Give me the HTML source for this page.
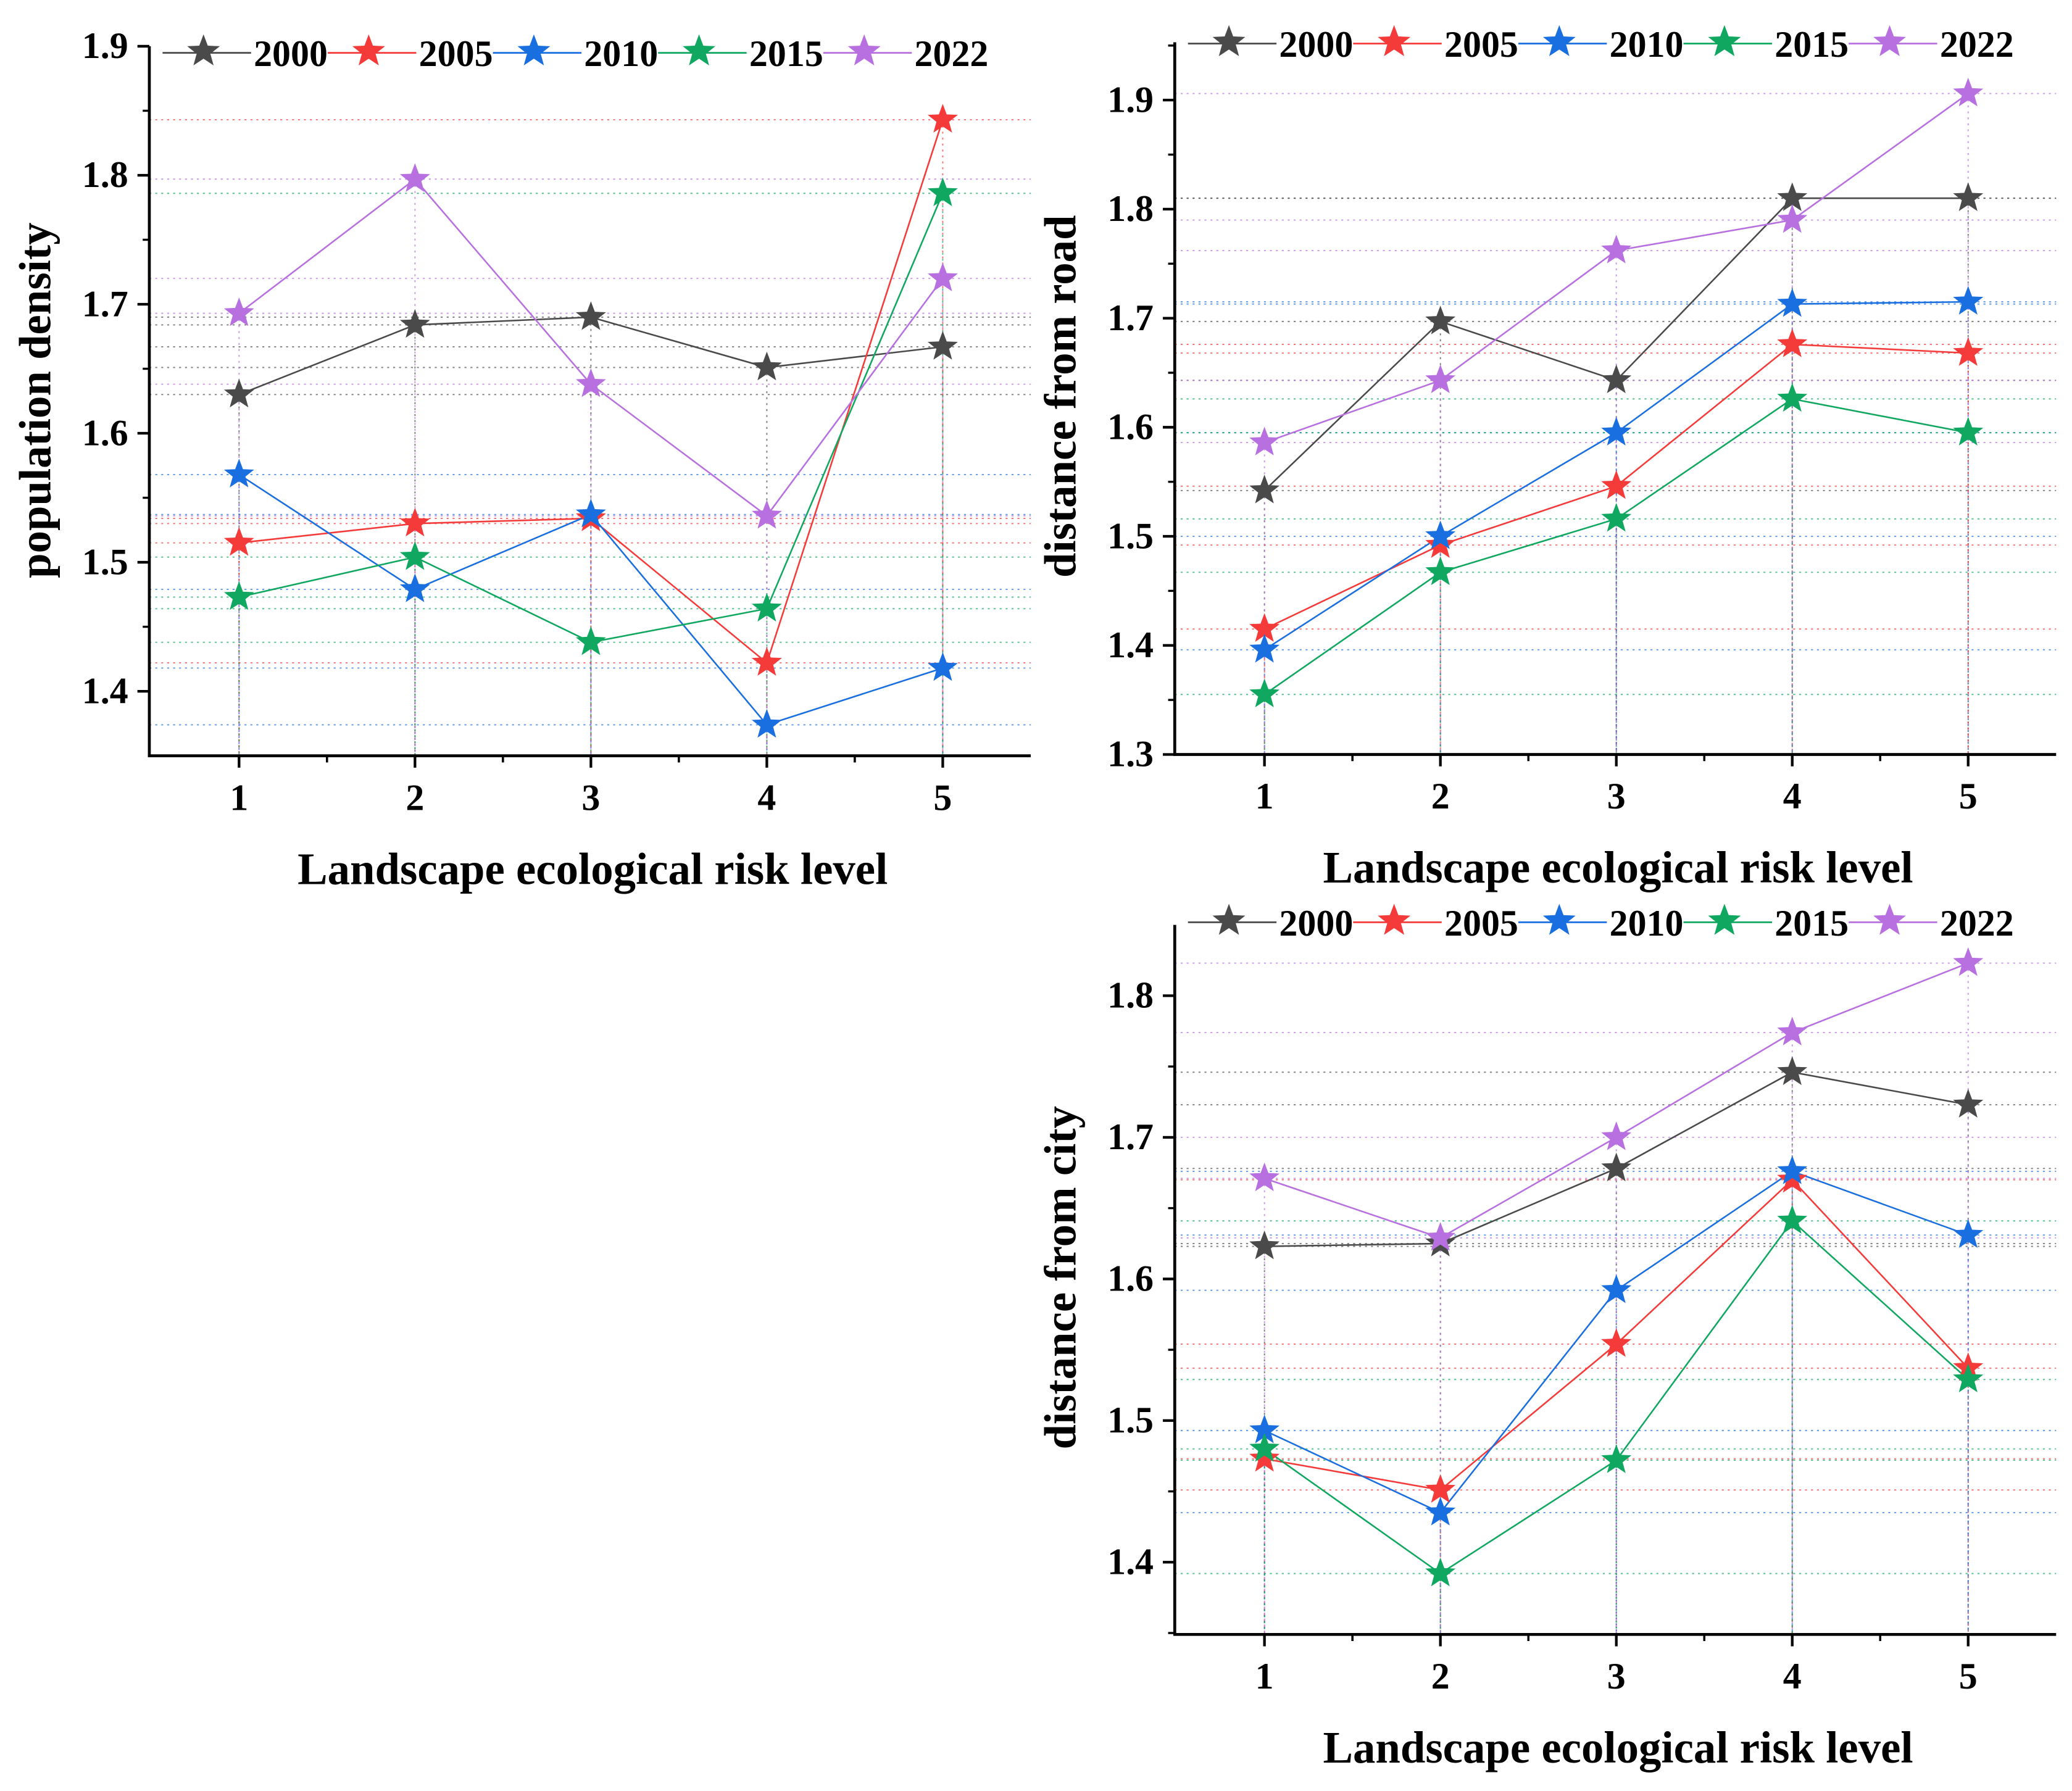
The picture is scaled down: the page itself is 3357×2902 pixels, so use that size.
<!DOCTYPE html>
<html><head><meta charset="utf-8">
<style>
html,body{margin:0;padding:0;background:#fff;}
svg{display:block;}
text{font-family:"Liberation Serif",serif;font-weight:bold;fill:#000;}
</style></head>
<body>
<svg id="chart" xmlns="http://www.w3.org/2000/svg" width="3357" height="2902" viewBox="0 0 1568 1355.5">
</svg>
<script>
const categories = [1, 2, 3, 4, 5];
const years = ["2000", "2005", "2010", "2015", "2022"];
const colors = ["#4a4a4a", "#f53a3a", "#1a6fe0", "#10a860", "#b870e0"];
const popDensity2000 = [1.630, 1.684, 1.690, 1.651, 1.667];
const popDensity2005 = [1.515, 1.530, 1.534, 1.422, 1.843];
const popDensity2010 = [1.568, 1.479, 1.537, 1.374, 1.418];
const popDensity2015 = [1.473, 1.504, 1.438, 1.464, 1.786];
const popDensity2022 = [1.693, 1.797, 1.638, 1.536, 1.720];
const road2000 = [1.542, 1.697, 1.643, 1.810, 1.810];
const road2005 = [1.415, 1.492, 1.546, 1.676, 1.668];
const road2010 = [1.396, 1.500, 1.595, 1.713, 1.715];
const road2015 = [1.355, 1.467, 1.516, 1.626, 1.595];
const road2022 = [1.586, 1.643, 1.762, 1.790, 1.906];
const city2000 = [1.623, 1.625, 1.678, 1.746, 1.723];
const city2005 = [1.473, 1.451, 1.554, 1.670, 1.537];
const city2010 = [1.493, 1.435, 1.592, 1.676, 1.631];
const city2015 = [1.480, 1.392, 1.472, 1.641, 1.529];
const city2022 = [1.671, 1.629, 1.700, 1.774, 1.823];
const popTicks = ["1.4", "1.5", "1.6", "1.7", "1.8", "1.9"];
const roadTicks = ["1.3", "1.4", "1.5", "1.6", "1.7", "1.8", "1.9"];
const cityTicks = ["1.4", "1.5", "1.6", "1.7", "1.8"];

const NS = "http://www.w3.org/2000/svg";
const svg = document.getElementById("chart");
function mk(tag, attrs, parent) {
  const e = document.createElementNS(NS, tag);
  for (const k in attrs) e.setAttribute(k, attrs[k]);
  (parent || svg).appendChild(e);
  return e;
}
function starPath(cx, cy, R) {
  const r = R * 0.42; let d = "";
  for (let i = 0; i < 10; i++) {
    const a = -Math.PI / 2 + i * Math.PI / 5;
    const rr = i % 2 ? r : R;
    d += (i ? "L" : "M") + (cx + rr * Math.cos(a)).toFixed(2) + "," + (cy + rr * Math.sin(a)).toFixed(2);
  }
  return d + "Z";
}

function panel(cfg) {
  const g = mk("g", {});
  
  
  const {L, R, T, B, xmin, xmax, ymin, ymax} = cfg;
  const sx = v => L + (v - xmin) / (xmax - xmin) * (R - L);
  const sy = v => B - (v - ymin) / (ymax - ymin) * (B - T);
  cfg.series.forEach((s, si) => {
    s.forEach((v, i) => {
      const x = sx(categories[i]), y = sy(v);
      const h = mk("line", {x1: L, y1: y, x2: R, y2: y, stroke: colors[si], "stroke-width": 0.9, "stroke-dasharray": "1.5,3", opacity: 0.7}, g);
      
      
      const vl = mk("line", {x1: x, y1: y, x2: x, y2: B, stroke: colors[si], "stroke-width": 0.9, "stroke-dasharray": "1.5,3", opacity: 0.7}, g);
      
      
    });
  });
  cfg.series.forEach((s, si) => {
    const pts = s.map((v, i) => sx(categories[i]).toFixed(2) + "," + sy(v).toFixed(2)).join(" ");
    const pl = mk("polyline", {points: pts, fill: "none", stroke: colors[si], "stroke-width": 1.2}, g);
    
    
  });
  cfg.series.forEach((s, si) => {
    s.forEach((v, i) => {
      const p = mk("path", {d: starPath(sx(categories[i]), sy(v), 12), fill: colors[si]}, g);
      
      
    });
  });
  const ya = mk("line", {x1: L, y1: T, x2: L, y2: B + 1, stroke: "#000", "stroke-width": 2.2}, g);
  
  
  const xa = mk("line", {x1: L - 1, y1: B, x2: R, y2: B, stroke: "#000", "stroke-width": 2.2}, g);
  
  
  cfg.ticks.forEach(t => {
    const v = parseFloat(t), y = sy(v);
    mk("line", {x1: L - 9, y1: y, x2: L, y2: y, stroke: "#000", "stroke-width": 2}, g);
    const m = sy(v + 0.05);
    if (m > T) mk("line", {x1: L - 5, y1: m, x2: L, y2: m, stroke: "#000", "stroke-width": 1.6}, g);
    const tx = mk("text", {x: L - 16, y: y + 9, "text-anchor": "end", "font-size": 28}, g);
    tx.textContent = t;
    
    
  });
  { const m = sy(parseFloat(cfg.ticks[0]) - 0.05); if (m < B) mk("line", {x1: L - 5, y1: m, x2: L, y2: m, stroke: "#000", "stroke-width": 1.6}, g); }
  categories.forEach(c => {
    const x = sx(c);
    mk("line", {x1: x, y1: B, x2: x, y2: B + 9, stroke: "#000", "stroke-width": 2}, g);
    [c - 0.5, c + 0.5].forEach(m => { if (sx(m) > L + 2 && sx(m) < R) mk("line", {x1: sx(m), y1: B, x2: sx(m), y2: B + 5, stroke: "#000", "stroke-width": 1.6}, g); });
    const tx = mk("text", {x: x, y: B + 41, "text-anchor": "middle", "font-size": 28}, g);
    tx.textContent = c;
    
    
  });
  const xt = mk("text", {x: (L + R) / 2 + 2, y: B + 97, "text-anchor": "middle", "font-size": 34}, g);
  xt.textContent = "Landscape ecological risk level";
  
  
  const yt = mk("text", {x: 0, y: 0, "text-anchor": "middle", "font-size": 34, transform: `translate(${L - 75},${cfg.ytitleY}) rotate(-90)`}, g);
  yt.textContent = cfg.ytitle;
  
  
  const lg = mk("g", {}, g);
  
  
  years.forEach((yr, i) => {
    const x0 = L + 10 + i * 125, ly = cfg.legendY;
    const e = mk("g", {}, lg);
    
    
    mk("line", {x1: x0, y1: ly, x2: x0 + 67, y2: ly, stroke: colors[i], "stroke-width": 1.3}, e);
    mk("path", {d: starPath(x0 + 31, ly - 1, 13), fill: colors[i]}, e);
    const t = mk("text", {x: x0 + 69, y: ly + 10, "font-size": 28}, e);
    t.textContent = yr;
  });
}

panel({name: "population-density-panel", L: 113, R: 780, T: 35, B: 572, xmin: 0.49, xmax: 5.5, ymin: 1.35, ymax: 1.9,
  series: [popDensity2000, popDensity2005, popDensity2010, popDensity2015, popDensity2022], ticks: popTicks,
  ytitle: "population density", ytitleY: 303, legendY: 40});
panel({name: "distance-from-road-panel", L: 889, R: 1556, T: 32, B: 571, xmin: 0.49, xmax: 5.5, ymin: 1.3, ymax: 1.953,
  series: [road2000, road2005, road2010, road2015, road2022], ticks: roadTicks,
  ytitle: "distance from road", ytitleY: 300, legendY: 33});
panel({name: "distance-from-city-panel", L: 889, R: 1556, T: 700, B: 1237, xmin: 0.49, xmax: 5.5, ymin: 1.349, ymax: 1.85,
  series: [city2000, city2005, city2010, city2015, city2022], ticks: cityTicks,
  ytitle: "distance from city", ytitleY: 967, legendY: 698});
</script>
</body></html>
